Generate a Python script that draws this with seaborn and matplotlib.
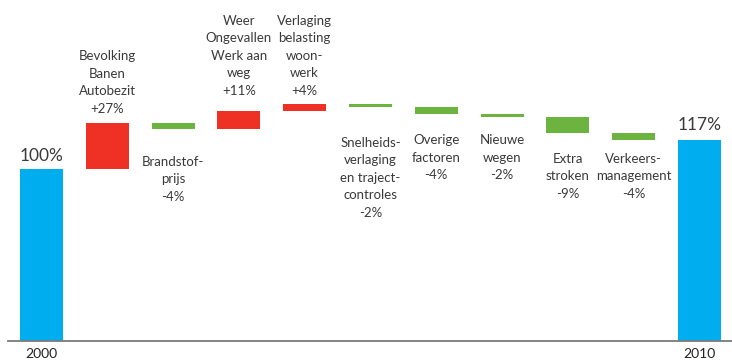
import matplotlib
matplotlib.use("Agg")
import matplotlib.pyplot as plt
import seaborn as sns
import numpy as np
import pandas as pd

# Waterfall: car traffic growth 2000 -> 2010, broken down by driver
categories = [
    "2000",
    "Bevolking\nBanen\nAutobezit",
    "Brandstof-\nprijs",
    "Weer\nOngevallen\nWerk aan\nweg",
    "Verlaging\nbelasting\nwoon-\nwerk",
    "Snelheids-\nverlaging\nen traject-\ncontroles",
    "Overige\nfactoren",
    "Nieuwe\nwegen",
    "Extra\nstroken",
    "Verkeers-\nmanagement",
    "2010",
]
start_value = 100
changes = [27, -4, 11, 4, -2, -4, -2, -9, -4]
end_value = 117

# label anchor heights (in % units) for the driver annotations
label_anchor = [None, 131.5, 107.7, 142.0, 142.0, 118.8, 120.3, 120.3, 109.5, 109.5, None]

BLUE = "#00AEEF"
RED = "#EE3124"
GREEN = "#6DB33F"
TEXT = "#3a3a3a"

levels = start_value + np.cumsum(changes)
prev = np.concatenate([[start_value], levels[:-1]])
bottoms = [0] + list(np.minimum(prev, levels)) + [0]
heights = [start_value] + [abs(c) for c in changes] + [end_value]
colors = [BLUE] + [RED if c > 0 else GREEN for c in changes] + [BLUE]

df = pd.DataFrame({"cat": categories, "height": heights})

sns.set_theme(style="white")
plt.rcParams["font.family"] = ["Lato", "DejaVu Sans"]

W, H = 732, 361
fig = plt.figure(figsize=(W / 100, H / 100), dpi=100)
base_px = 341
ax = fig.add_axes([0, (H - base_px) / H, 1, base_px / H])

sns.barplot(data=df, x="cat", y="height", bottom=bottoms, width=0.653,
            errorbar=None, ax=ax, order=categories, color=BLUE)
for patch, c in zip(ax.patches, colors):
    patch.set_facecolor(c)
    patch.set_edgecolor("none")

step = 65.8
ax.set_xlim(-41.5 / step, (W - 41.5) / step)
ax.set_ylim(0, base_px / 1.72)

for s in ["top", "right", "left"]:
    ax.spines[s].set_visible(False)
ax.spines["bottom"].set_color("#7a7a7a")
ax.spines["bottom"].set_linewidth(1.3)
ax.spines["bottom"].set_bounds((8 - 41.5) / step, (W - 41.5) / step)

ax.set_yticks([])
ax.set_xlabel("")
ax.set_ylabel("")
ax.set_xticks(range(len(categories)))
ax.set_xticklabels(["2000"] + [""] * (len(categories) - 2) + ["2010"],
                   fontsize=10, color="#222222")
ax.tick_params(axis="x", length=0, pad=5)

# totals
ax.text(0, start_value + 4.7, f"{start_value}%", ha="center", va="baseline",
        fontsize=12.5, color=TEXT)
ax.text(len(categories) - 1, end_value + 5.7, f"{end_value}%", ha="center",
        va="baseline", fontsize=12.5, color=TEXT)

# driver labels
for i, c in enumerate(changes, start=1):
    txt = f"{categories[i]}\n{c:+d}%"
    ax.text(i, label_anchor[i], txt, ha="center",
            va="bottom" if c > 0 else "top", fontsize=9.5, color=TEXT,
            linespacing=1.55)

fig.savefig("out.png", dpi=100)
